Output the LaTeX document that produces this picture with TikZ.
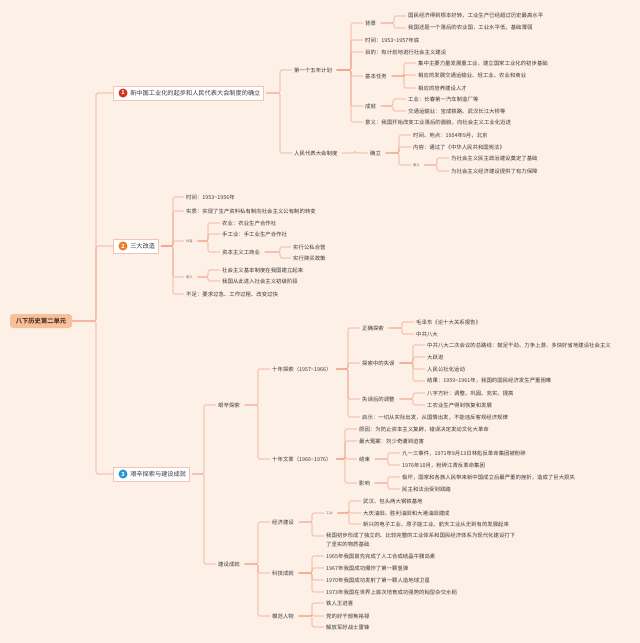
\documentclass[tikz,border=0pt]{standalone}
\usepackage{fontspec}
\setmainfont{Noto Sans CJK SC}
\definecolor{bgc}{HTML}{FDF0E7}
\definecolor{linec}{HTML}{F2A389}
\definecolor{txtc}{HTML}{3A3A3A}
\definecolor{rootc}{HTML}{F8C09A}
\definecolor{roott}{HTML}{5A3526}
\definecolor{secborder}{HTML}{F2C4B2}
\definecolor{cone}{HTML}{D7301F}
\definecolor{ctwo}{HTML}{EF7B22}
\definecolor{cthree}{HTML}{2B94D6}
\newcommand\lk[3]{\foreach \ch in {#3}{\draw[link] ([xshift=2.5pt]#1.east) -- (#1.east -| #2,0) |- (\ch.west);}}
\begin{document}
\begin{tikzpicture}[x=1pt,y=-1pt,
 t/.style={anchor=west,inner xsep=2pt,inner ysep=1pt,font=\fontsize{5.4}{7}\selectfont,text=txtc},
 tiny/.style={anchor=west,inner xsep=2pt,inner ysep=1pt,font=\fontsize{3.2}{4}\selectfont,text=txtc!80},
 link/.style={draw=linec,line width=0.55pt,rounded corners=1.5pt},
 sec/.style={anchor=west,draw=secborder,fill=white,line width=0.5pt,inner xsep=3pt,minimum height=14pt,font=\fontsize{6.2}{7}\selectfont,text=txtc},
 num/.style={circle,inner sep=0pt,minimum size=9pt,text=white,font=\bfseries\fontsize{5.5}{6}\selectfont},
 rootbox/.style={fill=rootc,rounded corners=3pt,minimum width=62pt,minimum height=14pt,font=\bfseries\fontsize{6.3}{7}\selectfont,text=roott}]
\fill[bgc] (0,0) rectangle (640,643);
\useasboundingbox (0,0) rectangle (640,643);

% root and sections
\node[rootbox] (root) at (41,321) {八下历史第二单元};
\node[sec] (s1) at (113,93) {\hspace{14pt}新中国工业化的起步和人民代表大会制度的确立};
\node[num,fill=cone] (n1) at (123,93) {1};
\node[sec] (s2) at (113,246) {\hspace{14pt}三大改造};
\node[num,fill=ctwo] (n2) at (123,246) {2};
\node[sec] (s3) at (113,474) {\hspace{14pt}艰辛探索与建设成就};
\node[num,fill=cthree] (n3) at (123,474) {3};
\foreach \s in {s1,s2,s3}{\draw[link] (root.east) -- (root.east -| 96,0) |- (\s.west);}

% ===== section 1
\node[t] (fp) at (292,70) {第一个五年计划};
\node[t] (rd) at (292,153) {人民代表大会制度};
\lk{s1}{280}{fp,rd}
\node[t] (bj) at (363,23) {背景};
\node[t] (sj) at (363,40) {时间：1953\textasciitilde1957年底};
\node[t] (md) at (363,52) {目的：有计划地进行社会主义建设};
\node[t] (rw) at (363,76) {基本任务};
\node[t] (cj) at (363,106) {成就};
\node[t] (yy) at (363,122) {意义：我国开始改变工业落后的面貌，向社会主义工业化迈进};
\lk{fp}{351}{bj,sj,md,rw,cj,yy}
\node[t] (bja) at (406,16) {国民经济得到根本好转，工业生产已经超过历史最高水平};
\node[t] (bjb) at (406,28) {我国还是一个落后的农业国，工业水平低，基础薄弱};
\lk{bj}{394}{bja,bjb}
\node[t] (rwa) at (416,63) {集中主要力量发展重工业，建立国家工业化的初步基础};
\node[t] (rwb) at (416,75) {相应的发展交通运输业、轻工业、农业和商业};
\node[t] (rwc) at (416,88) {相应的培养建设人才};
\lk{rw}{404}{rwa,rwb,rwc}
\node[t] (cja) at (406,99) {工业：长春第一汽车制造厂等};
\node[t] (cjb) at (406,111) {交通运输业：宝成铁路、武汉长江大桥等};
\lk{cj}{393}{cja,cjb}
\node[t] (ql) at (368,153) {确立};
\lk{rd}{355}{ql}
\node[t] (qla) at (411,135) {时间、地点：1954年9月，北京};
\node[t] (qlb) at (411,147) {内容：通过了《中华人民共和国宪法》};
\node[tiny] (qlx) at (411,165) {意义};
\lk{ql}{399}{qla,qlb,qlx}
\node[t] (qxa) at (449,158) {为社会主义民主政治建设奠定了基础};
\node[t] (qxb) at (449,171) {为社会主义经济建设提供了有力保障};
\lk{qlx}{437}{qxa,qxb}

% ===== section 2
\node[t] (aa) at (184,197) {时间：1953\textasciitilde1956年};
\node[t] (ab) at (184,211) {实质：实现了生产资料私有制向社会主义公有制的转变};
\node[tiny] (ac) at (184,241) {内容};
\node[tiny] (ad) at (184,277) {意义};
\node[t] (ae) at (184,294) {不足：要求过急、工作过粗、改变过快};
\lk{s2}{173}{aa,ab,ac,ad,ae}
\node[t] (ba) at (220,223) {农业：农业生产合作社};
\node[t] (bb) at (220,234) {手工业：手工业生产合作社};
\node[t] (bc) at (220,252) {资本主义工商业};
\lk{ac}{208}{ba,bb,bc}
\node[t] (ca) at (291,247) {实行公私合营};
\node[t] (cb) at (291,258) {实行赎买政策};
\lk{bc}{280}{ca,cb}
\node[t] (da) at (220,270) {社会主义基本制度在我国建立起来};
\node[t] (db) at (220,281) {我国从此进入社会主义初级阶段};
\lk{ad}{208}{da,db}

% ===== section 3
\node[t] (ea) at (216,405) {艰辛探索};
\node[t] (eb) at (216,564) {建设成就};
\lk{s3}{204}{ea,eb}
\node[t] (fa) at (270,369) {十年探索（1957\textasciitilde1966）};
\node[t] (fb) at (270,459) {十年文革（1966\textasciitilde1976）};
\lk{ea}{258}{fa,fb}
\node[t] (ga) at (360,328) {正确探索};
\node[t] (gb) at (360,363) {探索中的失误};
\node[t] (gc) at (360,399) {失误后的调整};
\node[t] (gd) at (360,417) {启示：一切从实际出发，从国情出发，不能违反客观经济规律};
\lk{fa}{348}{ga,gb,gc,gd}
\node[t] (ha) at (414,322) {毛泽东《论十大关系报告》};
\node[t] (hb) at (414,334) {中共八大};
\lk{ga}{402}{ha,hb}
\node[t] (ia) at (425,345) {中共八大二次会议的总路线：鼓足干劲、力争上游、多快好省地建设社会主义};
\node[t] (ib) at (425,357) {大跃进};
\node[t] (ic) at (425,369) {人民公社化运动};
\node[t] (id) at (425,381) {结果：1959\textasciitilde1961年，我国的国民经济发生严重困难};
\lk{gb}{413}{ia,ib,ic,id}
\node[t] (ja) at (425,393) {八字方针：调整、巩固、充实、提高};
\node[t] (jb) at (425,405) {工农业生产得到恢复和发展};
\lk{gc}{413}{ja,jb}
\node[t] (ka) at (357,429) {原因：为防止资本主义复辟，错误决定发动文化大革命};
\node[t] (kb) at (357,441) {最大冤案：刘少奇遭到迫害};
\node[t] (kc) at (357,459) {结束};
\node[t] (kd) at (357,483) {影响};
\lk{fb}{345}{ka,kb,kc,kd}
\node[t] (la) at (400,453) {九一三事件，1971年9月13日林彪反革命集团被粉碎};
\node[t] (lb) at (400,465) {1976年10月，粉碎江青反革命集团};
\lk{kc}{388}{la,lb}
\node[t] (ma) at (400,477) {极坏，国家和各族人民带来新中国成立后最严重的挫折，造成了巨大损失};
\node[t] (mb) at (400,489) {民主和法治受到践踏};
\lk{kd}{388}{ma,mb}
\node[t] (oa) at (270,522) {经济建设};
\node[t] (ob) at (270,573) {科技成就};
\node[t] (oc) at (270,616) {模范人物};
\lk{eb}{258}{oa,ob,oc}
\node[tiny] (pa) at (324,513) {工业};
\node[t,align=left,font=\fontsize{5.4}{8.5}\selectfont] (pb) at (324,540) {我国初步形成了独立的、比较完整的工业体系和国民经济体系为现代化建设打下\\了坚实的物质基础};
\lk{oa}{312}{pa}
\draw[link] ([xshift=2.5pt]oa.east) -- (oa.east -| 312,0) |- ([yshift=4pt]pb.west);
\node[t] (qa) at (361,501) {武汉、包头两大钢铁基地};
\node[t] (qb) at (361,513) {大庆油田、胜利油田和大港油田建成};
\node[t] (qc) at (361,524) {新兴的电子工业、原子能工业、航天工业从无到有的发展起来};
\lk{pa}{349}{qa,qb,qc}
\node[t] (ra) at (324,556) {1965年我国首先完成了人工合成结晶牛胰岛素};
\node[t] (rb) at (324,568) {1967年我国成功爆炸了第一颗氢弹};
\node[t] (rc) at (324,580) {1970年我国成功发射了第一颗人造地球卫星};
\node[t] (rdd) at (324,592) {1973年我国在世界上首次培育成功强势的籼型杂交水稻};
\lk{ob}{312}{ra,rb,rc,rdd}
\node[t] (ua) at (324,603) {铁人王进喜};
\node[t] (ub) at (324,616) {党的好干部焦裕禄};
\node[t] (uc) at (324,627) {解放军好战士雷锋};
\lk{oc}{312}{ua,ub,uc}
\end{tikzpicture}
\end{document}
